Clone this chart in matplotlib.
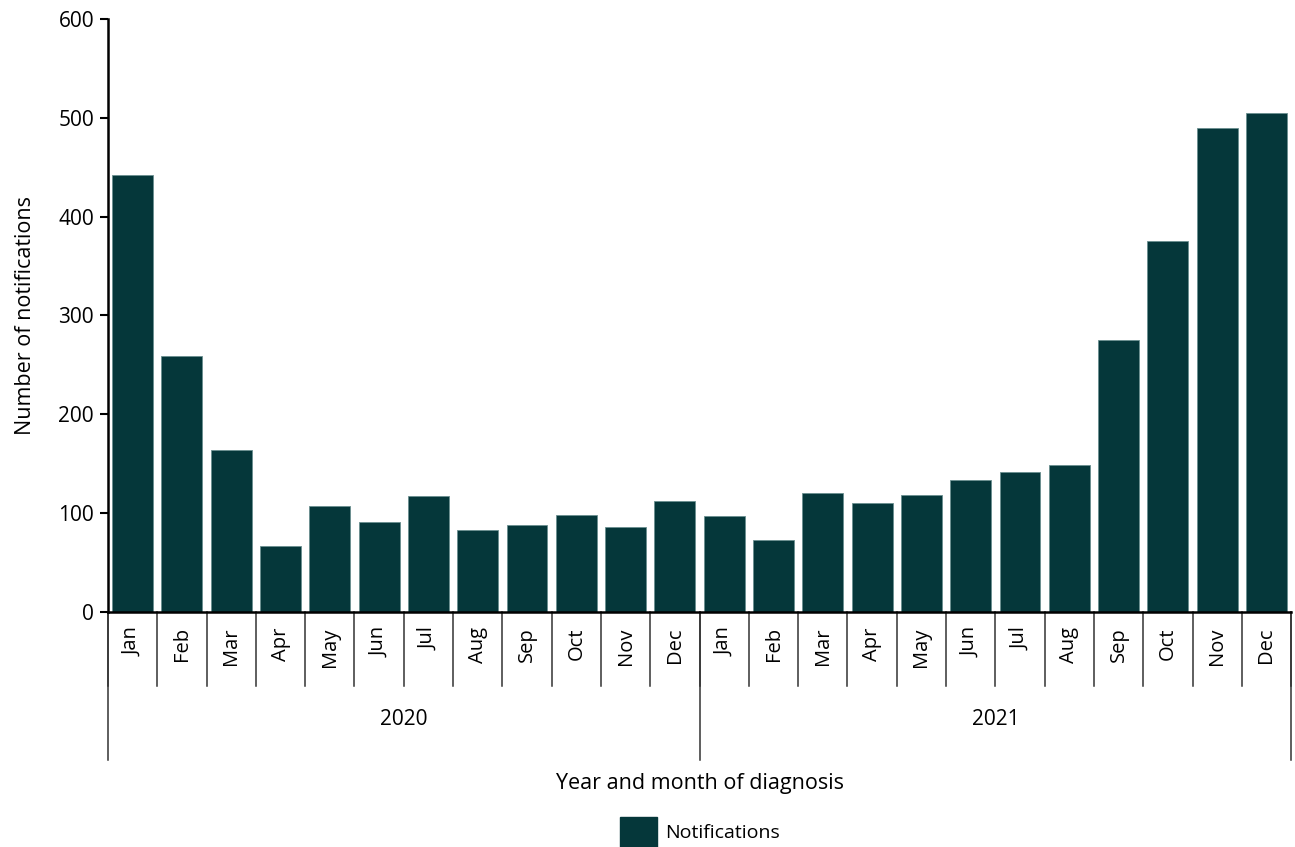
import numpy as np
import matplotlib.pyplot as plt
from matplotlib.patches import Patch

plt.rcParams['font.family'] = ['Open Sans', 'DejaVu Sans']

# Datos
months = ["Jan", "Feb", "Mar", "Apr", "May", "Jun",
          "Jul", "Aug", "Sep", "Oct", "Nov", "Dec"]
years = ["2020", "2021"]
notif_2020 = [442, 259, 164, 67, 107, 91, 117, 83, 88, 98, 86, 112]
notif_2021 = [97, 73, 120, 110, 118, 134, 142, 149, 275, 375, 490, 505]

values = notif_2020 + notif_2021
labels = months * len(years)
x = np.arange(len(values))

bar_color = "#05373a"

fig = plt.figure(figsize=(12.95, 8.47), dpi=100)
ax = fig.add_axes([0.0834, 0.2775, 0.9136, 0.7001])

ax.bar(x, values, width=0.83, color=bar_color, edgecolor="#6a8f8f", linewidth=0.6)

ax.set_xlim(-0.5, len(values) - 0.5)
ax.set_ylim(0, 600)
ax.set_yticks(range(0, 601, 100))
ax.tick_params(axis="y", labelsize=15, length=6, width=1.5, direction="out", pad=4)

ax.spines["top"].set_visible(False)
ax.spines["right"].set_visible(False)
ax.spines["left"].set_linewidth(1.8)
ax.spines["bottom"].set_linewidth(1.8)

# Etiquetas de meses (rotadas)
ax.set_xticks(x)
ax.set_xticklabels(labels, rotation=90, fontsize=14.5)
ax.tick_params(axis="x", length=0, pad=11)

trans = ax.get_xaxis_transform()
# Separadores de meses
for b in np.arange(len(values) + 1) - 0.5:
    ax.plot([b, b], [0, -0.125], transform=trans, color="#333333", lw=1.1, clip_on=False)
# Separadores de años y etiquetas
n = len(months)
for i, yr in enumerate(years):
    ax.plot([i * n - 0.5, i * n - 0.5], [0, -0.25], transform=trans,
            color="#333333", lw=1.1, clip_on=False)
    ax.text(i * n + (n - 1) / 2, -0.182, yr, transform=trans,
            ha="center", va="center", fontsize=15)
ax.plot([len(values) - 0.5] * 2, [0, -0.25], transform=trans,
        color="#333333", lw=1.1, clip_on=False)

ax.set_ylabel("Number of notifications", fontsize=15.5, labelpad=16)
fig.text(0.5408, 0.0745, "Year and month of diagnosis", ha="center", va="center", fontsize=15.5)

fig.legend(handles=[Patch(facecolor=bar_color, edgecolor=bar_color)],
           labels=["Notifications"], loc="center", bbox_to_anchor=(0.5405, 0.018),
           frameon=False, fontsize=14, handlelength=1.9, handleheight=2.0,
           handletextpad=0.4)

fig.savefig("out.png", dpi=100)
